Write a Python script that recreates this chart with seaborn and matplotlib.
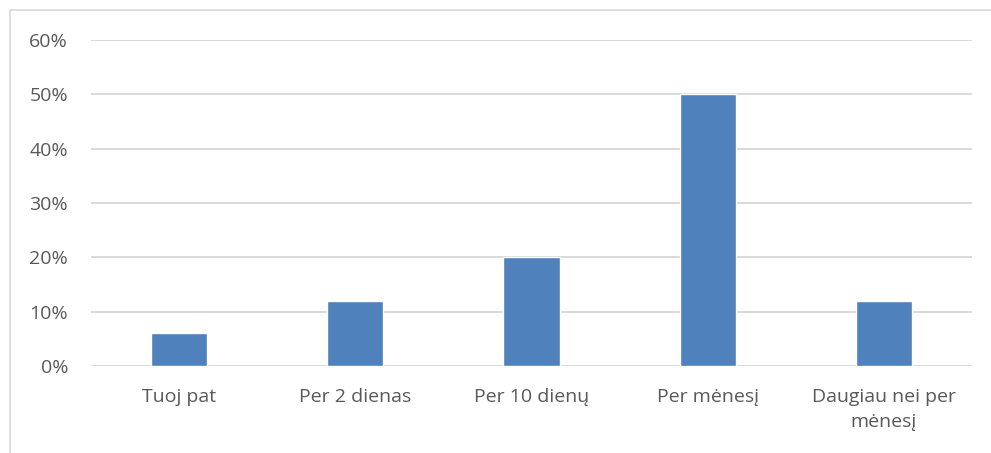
import matplotlib
matplotlib.use("Agg")
import matplotlib.pyplot as plt
from matplotlib.ticker import PercentFormatter, MultipleLocator
from matplotlib.lines import Line2D
import seaborn as sns
import pandas as pd

categories = ["Tuoj pat", "Per 2 dienas", "Per 10 dienų", "Per mėnesį", "Daugiau nei per\nmėnesį"]
values = [6, 12, 20, 50, 12]

sns.set_style("white")
plt.rcParams['font.family'] = ['Open Sans', 'DejaVu Sans']

df = pd.DataFrame({"cat": categories, "val": values})

fig = plt.figure(figsize=(9.91, 4.53), dpi=100)
ax = fig.add_axes([91/991, 1-366/453, (972-91)/991, (366-40)/453])
sns.barplot(data=df, x="cat", y="val", color="#4F81BD", saturation=1, width=0.32, ax=ax, zorder=3)

ax.set_ylim(0, 60)
ax.yaxis.set_major_locator(MultipleLocator(10))
ax.yaxis.set_major_formatter(PercentFormatter(decimals=0))
ax.set_xlim(-0.5, len(categories) - 0.5)
ax.grid(axis="y", color="#D9D9D9", linewidth=1.4, zorder=0)
ax.set_axisbelow(True)
for s in ax.spines.values():
    s.set_visible(False)
ax.tick_params(axis="both", length=0, labelsize=14, colors="#595959")
ax.tick_params(axis="y", pad=16.5)
ax.tick_params(axis="x", pad=16)
ax.set_xticks(range(len(categories)))
ax.set_xticklabels(categories, linespacing=1.5)
ax.set_xlabel("")
ax.set_ylabel("")

# outer border (top and left visible)
fig.add_artist(Line2D([10/991, 1.0], [1-10/453, 1-10/453], transform=fig.transFigure, color="#D9D9D9", linewidth=1.2))
fig.add_artist(Line2D([10/991, 10/991], [0, 1-10/453], transform=fig.transFigure, color="#D9D9D9", linewidth=1.2))

fig.savefig("out.png", dpi=100)
